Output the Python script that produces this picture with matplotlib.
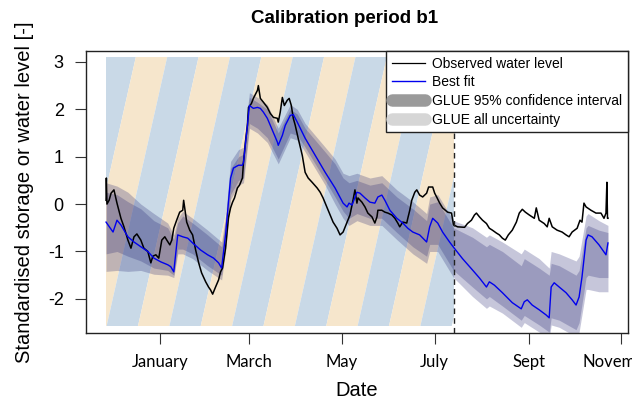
import numpy as np
import matplotlib
matplotlib.use("Agg")
import matplotlib.pyplot as plt
import matplotlib.dates as mdates
from matplotlib.lines import Line2D
from matplotlib.patches import Polygon, Rectangle

plt.rcParams["font.family"] = ["Liberation Sans", "DejaVu Sans"]

# ── data (days counted from 1 January) ──────────────────────────────────────
START = np.datetime64("2015-01-01T00:00")

obs_days = [-35.4, -35.2, -34.8, -33.4, -32.1, -30.2, -28.2, -25.6, -23.6, -21.0,
            -19.0, -17.0, -15.1, -12.5, -10.5, -7.9, -5.9, -4.6, -2.6, -0.7,
            1.3, 3.3, 4.6, 6.6, 7.9, 9.2, 11.1, 13.1, 15.1, 15.7,
            17.7, 19.7, 21.6, 23.6, 25.6, 27.5, 30.2, 32.1, 33.4, 34.8,
            36.7, 38.7, 40.0, 41.3, 43.3, 45.2, 46.6, 47.9, 49.2, 51.1,
            52.5, 54.4, 55.1, 56.4, 57.7, 58.4, 60.3, 61.6, 64.3, 64.9,
            66.2, 68.2, 70.8, 72.8, 74.8, 77.4, 78.0, 79.3, 80.7, 82.0,
            83.9, 85.2, 86.6, 87.9, 89.2, 91.1, 93.8, 95.7, 97.7, 100.3,
            103.6, 105.6, 107.5, 110.2, 112.1, 114.1, 116.7, 118.7, 120.7, 123.3,
            125.2, 127.2, 128.5, 129.8, 130.5, 133.1, 135.1, 137.0, 139.7, 141.6,
            143.0, 143.6, 146.2, 148.2, 150.2, 152.8, 154.8, 156.7, 158.0, 160.0,
            162.6, 163.3, 164.6, 165.9, 167.9, 169.2, 171.1, 173.1, 175.7, 177.0,
            179.7, 181.0, 182.3, 184.3, 186.2, 189.5, 192.1, 193.4, 196.1, 200.7,
            202.6, 205.2, 207.2, 208.5, 210.5, 212.5, 215.1, 217.0, 219.0, 221.6,
            223.6, 225.6, 227.5, 229.5, 232.1, 234.8, 236.7, 238.7, 240.7, 243.3,
            246.6, 247.9, 249.8, 253.1, 255.1, 256.4, 258.4, 261.6, 264.9, 267.5,
            269.5, 271.5, 274.8, 276.7, 278.0, 279.3, 280.7, 283.9, 287.2, 290.5,
            292.5, 293.8, 294.4, 294.8, 295.1]
obs_vals = [0.08, 0.55, 0.0, 0.08, 0.23, 0.30, 0.02, -0.30, -0.48, -0.76,
            -0.93, -0.69, -0.63, -0.76, -0.93, -1.00, -1.24, -1.10, -1.07, -1.14,
            -0.76, -0.69, -0.76, -0.86, -0.76, -0.51, -0.34, -0.17, -0.13, 0.08,
            -0.38, -0.55, -0.65, -0.97, -1.24, -1.45, -1.64, -1.75, -1.81, -1.90,
            -1.75, -1.60, -1.43, -1.35, -0.93, -0.29, -0.08, 0.04, 0.13, 0.34,
            0.40, 0.55, 0.88, 1.31, 1.66, 2.04, 2.12, 2.23, 2.40, 2.50,
            2.23, 2.15, 2.04, 1.91, 1.83, 1.81, 1.73, 1.94, 2.25, 2.08,
            2.19, 2.23, 2.08, 1.81, 1.66, 1.39, 1.03, 0.67, 0.55, 0.46,
            0.34, 0.25, 0.13, -0.08, -0.23, -0.38, -0.51, -0.65, -0.59, -0.38,
            -0.23, 0.08, 0.30, 0.02, 0.13, 0.04, -0.06, -0.19, -0.27, -0.40,
            -0.27, -0.13, -0.13, -0.17, -0.19, -0.23, -0.30, -0.40, -0.48, -0.38,
            -0.40, -0.30, -0.13, 0.08, 0.25, 0.30, 0.19, 0.15, 0.23, 0.36,
            0.36, 0.23, 0.15, 0.02, -0.08, -0.17, -0.19, -0.44, -0.48, -0.49,
            -0.41, -0.34, -0.23, -0.19, -0.27, -0.34, -0.41, -0.51, -0.55, -0.61,
            -0.65, -0.72, -0.76, -0.65, -0.55, -0.38, -0.19, -0.11, -0.17, -0.23,
            -0.30, -0.08, -0.34, -0.41, -0.48, -0.30, -0.48, -0.55, -0.59, -0.65,
            -0.69, -0.59, -0.51, -0.34, -0.38, 0.02, -0.06, -0.13, -0.19, -0.19,
            -0.30, -0.19, 0.46, -0.30, -0.30]

fit_days = [-35.4, -30.8, -28.2, -25.6, -23.6, -21.0, -17.0, -12.5, -7.9, -3.9,
            0.7, 5.2, 7.2, 9.2, 11.8, 15.1, 18.4, 21.6, 26.9, 31.5,
            35.4, 38.7, 40.7, 43.3, 46.6, 48.5, 51.8, 54.4, 55.1, 57.7,
            59.0, 61.6, 64.3, 66.2, 68.2, 70.8, 74.1, 77.4, 78.0, 80.7,
            82.6, 85.9, 87.9, 90.5, 95.7, 102.3, 108.9, 115.4, 120.7, 123.3,
            124.6, 126.6, 129.8, 131.8, 135.1, 138.4, 141.6, 143.6, 146.2, 148.2,
            151.5, 156.1, 160.0, 163.3, 166.6, 171.1, 175.7, 177.7, 179.7, 183.0,
            186.2, 190.8, 193.4, 199.3, 205.9, 210.5, 215.1, 217.0, 220.3, 225.6,
            232.1, 238.0, 240.0, 242.0, 245.2, 249.8, 254.4, 256.4, 257.7, 259.7,
            263.0, 267.5, 271.5, 274.1, 276.1, 278.0, 280.7, 282.0, 284.6, 289.2,
            293.8, 295.1]
fit_vals = [-0.38, -0.59, -0.34, -0.44, -0.55, -0.69, -0.80, -0.90, -1.00, -1.14,
            -1.22, -1.28, -1.32, -1.43, -0.65, -0.69, -0.72, -0.82, -0.97, -1.07,
            -1.14, -1.24, -1.35, -0.65, 0.55, 0.76, 0.82, 0.82, 0.88, 1.66,
            2.08, 2.02, 2.04, 2.02, 1.94, 1.81, 1.56, 1.31, 1.24, 1.45,
            1.66, 1.87, 1.89, 1.73, 1.39, 1.03, 0.67, 0.34, 0.02, -0.06,
            0.02, -0.02, 0.25, 0.23, 0.13, 0.04, 0.02, 0.15, 0.19, 0.08,
            -0.13, -0.30, -0.40, -0.51, -0.59, -0.65, -0.80, -0.48, -0.30, -0.40,
            -0.59, -0.80, -0.91, -1.15, -1.39, -1.56, -1.75, -1.64, -1.71, -1.87,
            -2.08, -2.21, -2.06, -2.02, -2.13, -2.23, -2.34, -2.40, -1.75, -1.66,
            -1.75, -1.87, -2.02, -2.13, -1.96, -1.54, -0.76, -0.65, -0.69, -0.86,
            -1.07, -0.82]

band_days = [-35.4, -28.2, -21.0, -12.5, -3.9, 5.2, 9.2, 11.8, 15.1, 21.6,
             31.5, 40.7, 43.3, 46.6, 51.8, 55.1, 57.7, 59.0, 64.3, 70.8,
             78.0, 85.9, 90.5, 95.7, 108.9, 115.4, 120.7, 124.6, 129.8, 138.4,
             146.2, 156.1, 166.6, 175.7, 177.7, 183.0, 193.4, 205.9, 215.1, 217.0,
             225.6, 238.0, 240.0, 249.8, 256.4, 257.7, 263.0, 274.1, 276.1, 280.7,
             282.0, 289.2, 295.1]
ci_low = [-1.05, -1.00, -1.10, -1.20, -1.35, -1.40, -1.50, -0.95, -0.95, -1.05,
          -1.30, -1.50, -0.90, 0.20, 0.50, 0.55, 1.30, 1.70, 1.60, 1.40,
          0.95, 1.50, 1.45, 1.20, 0.50, 0.15, -0.15, -0.30, -0.20, -0.30,
          -0.30, -0.60, -0.90, -1.10, -0.85, -0.85, -1.40, -1.75, -2.00, -1.95,
          -2.15, -2.45, -2.35, -2.55, -2.70, -2.40, -2.45, -2.65, -2.50, -1.55,
          -1.50, -1.55, -1.55]
ci_high = [0.25, 0.20, 0.05, -0.10, -0.35, -0.50, -0.75, -0.40, -0.25, -0.40,
           -0.65, -0.90, -0.35, 0.75, 1.00, 1.05, 1.90, 2.25, 2.15, 2.00,
           1.50, 2.00, 1.90, 1.60, 1.10, 0.85, 0.55, 0.45, 0.50, 0.40,
           0.45, 0.15, -0.10, -0.35, 0.00, 0.05, -0.50, -0.70, -0.90, -0.85,
           -1.00, -1.30, -1.15, -1.35, -1.50, -1.25, -1.30, -1.50, -1.40, -0.50,
           -0.45, -0.55, -0.60]
all_low = [-1.42, -1.40, -1.42, -1.40, -1.48, -1.50, -1.55, -1.05, -1.05, -1.15,
           -1.40, -1.60, -1.00, 0.10, 0.40, 0.45, 1.20, 1.60, 1.50, 1.30,
           0.85, 1.40, 1.35, 1.10, 0.40, 0.00, -0.30, -0.45, -0.35, -0.45,
           -0.45, -0.75, -1.05, -1.25, -1.00, -1.00, -1.55, -1.95, -2.20, -2.15,
           -2.30, -2.60, -2.50, -2.70, -2.85, -2.55, -2.60, -2.80, -2.70, -1.80,
           -1.80, -1.85, -1.85]
all_high = [0.45, 0.38, 0.25, 0.00, -0.20, -0.40, -0.65, -0.30, -0.15, -0.30,
            -0.55, -0.80, -0.25, 0.90, 1.15, 1.20, 2.00, 2.35, 2.25, 2.10,
            1.60, 2.10, 2.00, 1.70, 1.20, 0.95, 0.65, 0.60, 0.65, 0.55,
            0.60, 0.30, 0.05, -0.20, 0.15, 0.20, -0.35, -0.50, -0.70, -0.65,
            -0.80, -1.05, -0.95, -1.15, -1.35, -1.00, -1.05, -1.20, -1.10, -0.25,
            -0.20, -0.35, -0.45]

calib_end_day = 193.4
tick_dates = ["2015-01-01", "2015-03-01", "2015-05-01", "2015-07-01", "2015-09-01", "2015-11-01"]
tick_labels = ["January", "March", "May", "July", "Sept", "November"]

# ── styling ──────────────────────────────────────────────────────────────────
STRIPE_BLUE = "#c9d9e7"
STRIPE_WHEAT = "#f6e6cc"
BAND = "#1e1e6e"
STRIPE_W = 20.66      # stripe width in days
STRIPE_LEAN = 40.0    # horizontal shift of a stripe from bottom to top (days)
STRIPE_Y = (-2.58, 3.11)


def to_num(days):
    d = np.round(np.asarray(days, dtype=float) * 1440).astype(np.int64)
    return mdates.date2num(START + d.astype("timedelta64[m]"))


fig = plt.figure(figsize=(6.32, 4.04), dpi=100)
ax = fig.add_axes([86 / 632, 1 - 333 / 404, 542 / 632, 282 / 404])

# diagonal stripes over the calibration window
x0, x1 = to_num([obs_days[0], calib_end_day])
clip = Rectangle((x0, STRIPE_Y[0]), x1 - x0, STRIPE_Y[1] - STRIPE_Y[0],
                 transform=ax.transData, facecolor="none", edgecolor="none")
ax.add_patch(clip)
for k in range(-3, 13):
    tl = -36.4 + k * STRIPE_W
    px = to_num([tl - STRIPE_LEAN, tl - STRIPE_LEAN + STRIPE_W, tl + STRIPE_W, tl])
    py = [STRIPE_Y[0], STRIPE_Y[0], STRIPE_Y[1], STRIPE_Y[1]]
    poly = Polygon(np.column_stack([px, py]), closed=True, lw=0,
                   facecolor=STRIPE_BLUE if k % 2 == 0 else STRIPE_WHEAT, zorder=1)
    ax.add_patch(poly)
    poly.set_clip_path(clip)

bx = to_num(band_days)
ax.fill_between(bx, all_low, all_high, color=BAND, alpha=0.25, lw=0, zorder=2)
ax.fill_between(bx, ci_low, ci_high, color=BAND, alpha=0.25, lw=0, zorder=2)

ax.plot(to_num(obs_days), obs_vals, color="black", lw=1.1, zorder=3)
ax.plot(to_num(fit_days), fit_vals, color="#0000ee", lw=1.0, zorder=4)

ax.axvline(to_num([calib_end_day])[0], color="#222222", lw=1.0, ls=(0, (4, 3)), zorder=5)

ax.set_xlim(to_num([-48.6, 308.3]))
ax.set_ylim(-2.72, 3.23)

ax.set_yticks([-2, -1, 0, 1, 2, 3])
ax.set_yticklabels(["-2", "-1", "0", "1", "2", "3"], fontsize=13)
ax.set_xticks(mdates.date2num(np.array(tick_dates, dtype="datetime64[D]")))
ax.set_xticklabels(tick_labels, fontsize=12, family=["Lato", "DejaVu Sans"])
ax.tick_params(axis="both", direction="out", length=8, width=0.8, color="#333333")
ax.tick_params(axis="y", pad=8)
ax.tick_params(axis="x", pad=7)
for s in ax.spines.values():
    s.set_linewidth(1.0)
    s.set_color("#222222")

ax.set_xlabel("Date", fontsize=14.5, labelpad=8)
ax.set_ylabel("Standardised storage or water level [-]", fontsize=14.5, labelpad=10)
fig.text(0.545, 0.955, "Calibration period b1", ha="center", va="center",
         fontsize=13.5, fontweight="bold")

handles = [
    Line2D([], [], color="black", lw=0.9),
    Line2D([], [], color="#0000ee", lw=1.0),
    Line2D([], [], color="#9a9a9a", lw=9, solid_capstyle="round"),
    Line2D([], [], color="#d6d6d6", lw=9, solid_capstyle="round"),
]
labels = ["Observed water level", "Best fit",
          "GLUE 95% confidence interval", "GLUE all uncertainty"]
leg = ax.legend(handles, labels, loc="upper right", borderaxespad=0, fancybox=False,
                edgecolor="#222222", framealpha=1, fontsize=10, handlelength=2.4,
                handletextpad=0.5, labelspacing=0.34, borderpad=0.4)
leg.get_frame().set_linewidth(1.0)
leg.set_zorder(10)

fig.savefig("out.png", dpi=100)
